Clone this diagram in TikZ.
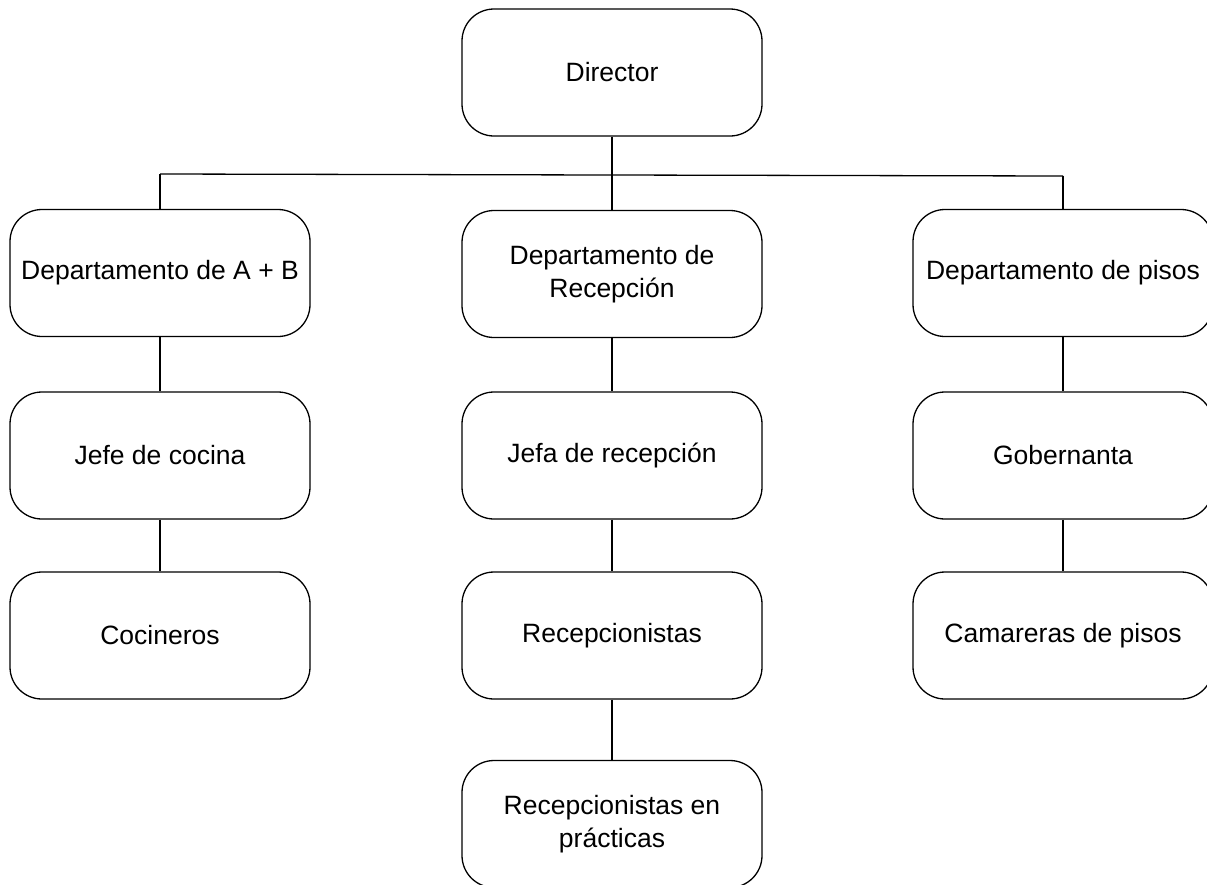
\documentclass[tikz,border=0pt]{standalone}
\usepackage{fontspec}
\setmainfont{Liberation Sans}
\begin{document}
\begin{tikzpicture}[x=1pt,y=-1pt,
  orgbox/.style={draw=black, line width=1.3pt, rounded corners=32pt, fill=white,
    minimum width=300pt, minimum height=127pt, inner sep=0pt, align=center,
    font=\fontsize{26.5}{32.5}\selectfont},
  link/.style={draw=black, line width=1.3pt}]
\useasboundingbox (0,0) rectangle (1207,884);

% top level
\node[orgbox] (dir) at (612,72.5) {Director};

% departments
\node[orgbox] (ab)   at (160,273)  {Departamento de A + B};
\node[orgbox] (rec)  at (612,274)  {Departamento de\\Recepción};
\node[orgbox] (pis)  at (1063,273) {Departamento de pisos};

% second level
\node[orgbox] (jcoc) at (160,455.5)  {Jefe de cocina};
\node[orgbox] (jrec) at (612,455.5)  {Jefa de recepción};
\node[orgbox] (gob)  at (1063,455.5) {Gobernanta};

% third level
\node[orgbox] (coc)  at (160,635.5)  {Cocineros};
\node[orgbox] (recs) at (612,635.5)  {Recepcionistas};
\node[orgbox] (cam)  at (1063,635.5) {Camareras de pisos};

% trainees
\node[orgbox] (prac) at (612,824) {Recepcionistas en\\prácticas};

% branch bus below the director
\coordinate (busL) at (160,174);
\coordinate (busM) at (612,175);
\coordinate (busR) at (1063,176);
\draw[link] (busL) -- (busR);
\draw[link] (dir.south) -- (busM);
\draw[link] (busL) -- (ab.north);
\draw[link] (busM) -- (rec.north);
\draw[link] (busR) -- (pis.north);

% vertical chains
\draw[link] (ab.south) -- (jcoc.north);
\draw[link] (jcoc.south) -- (coc.north);
\draw[link] (rec.south) -- (jrec.north);
\draw[link] (jrec.south) -- (recs.north);
\draw[link] (recs.south) -- (prac.north);
\draw[link] (pis.south) -- (gob.north);
\draw[link] (gob.south) -- (cam.north);
\end{tikzpicture}
\end{document}
